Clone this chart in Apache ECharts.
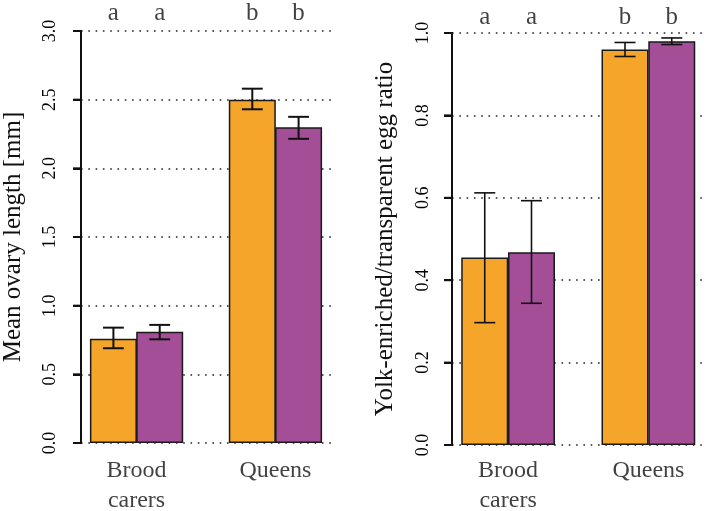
<!DOCTYPE html>
<html>
<head>
<meta charset="utf-8">
<script src="https://cdn.jsdelivr.net/npm/echarts@6/dist/echarts.min.js"></script>
<style>
  html, body { margin: 0; padding: 0; background: #fff; }
  #chart { width: 706px; height: 511px; }
</style>
</head>
<body>
<div id="chart"></div>
<script>
// data
const groups = ['Brood\ncarers', 'Queens'];
const lettersLeft = ['a', 'a', 'b', 'b'];
const lettersRight = ['a', 'a', 'b', 'b'];

// mean ovary length [mm]
const ovaryOrange = [0.76, 2.50];
const ovaryOrangeLo = [0.69, 2.43];
const ovaryOrangeHi = [0.84, 2.58];
const ovaryPurple = [0.81, 2.30];
const ovaryPurpleLo = [0.755, 2.215];
const ovaryPurpleHi = [0.86, 2.375];

// yolk-enriched / transparent egg ratio
const ratioOrange = [0.455, 0.96];
const ratioOrangeLo = [0.297, 0.943];
const ratioOrangeHi = [0.612, 0.977];
const ratioPurple = [0.468, 0.98];
const ratioPurpleLo = [0.344, 0.972];
const ratioPurpleHi = [0.593, 0.988];

const ORANGE = '#F5A52A';
const PURPLE = '#A34E96';
const FONT = 'Liberation Serif';
const X_MIN = 0.8, X_MAX = 6.2;

// barplot layout: width 1 per bar, space 1 before each group
const barX = (g, i) => 1 + g * 3 + i + 0.5;
const groupX = groups.map((_, g) => 1 + g * 3 + 1);
const allBarX = [];
groups.forEach((_, g) => { allBarX.push(barX(g, 0), barX(g, 1)); });

const chart = echarts.init(document.getElementById('chart'));

function makeXAxis(gridIndex) {
  return {
    gridIndex, type: 'value', min: X_MIN, max: X_MAX,
    axisLine: { show: false },
    axisTick: { show: false },
    axisLabel: { show: false },
    splitLine: { show: false }
  };
}

function makeYAxis(gridIndex, max, interval, name, nameGap, margin) {
  return {
    gridIndex, type: 'value', min: 0, max: max, interval: interval,
    name: name, nameLocation: 'middle', nameGap: nameGap, nameRotate: 90,
    nameTextStyle: { fontFamily: FONT, fontSize: 25, color: '#111' },
    axisLine: { show: true, onZero: false, lineStyle: { color: '#111', width: 2 } },
    axisTick: { show: true, length: 8, lineStyle: { color: '#111', width: 2 } },
    axisLabel: {
      rotate: 90, margin: margin, fontFamily: FONT, fontSize: 18, color: '#000',
      formatter: v => v.toFixed(1)
    },
    splitLine: { show: true, lineStyle: { color: '#222', width: 1.6, type: [1.6, 5.7] } }
  };
}

// y axis line and outward ticks, drawn through the axis scale
function axisDecor(idx, max, interval) {
  const ticks = [];
  for (let k = 0; k * interval <= max + 1e-9; k++) ticks.push(+(k * interval).toFixed(6));
  return {
    type: 'custom', xAxisIndex: idx, yAxisIndex: idx, clip: false, silent: true, z: 6,
    renderItem: (params, api) => {
      const p = api.coord([X_MIN, api.value(1)]);
      const st = { stroke: '#111', lineWidth: 2 };
      const children = [
        { type: 'line', shape: { x1: p[0] - 8, y1: p[1], x2: p[0], y2: p[1] }, style: st }
      ];
      if (params.dataIndex === 0) {
        const top = api.coord([X_MIN, max]);
        children.push({ type: 'line', shape: { x1: p[0], y1: p[1] + 1, x2: top[0], y2: top[1] - 1 }, style: st });
      }
      return { type: 'group', children };
    },
    data: ticks.map(v => [X_MIN, v])
  };
}

function bars(idx, vals, color) {
  return {
    type: 'bar', xAxisIndex: idx, yAxisIndex: idx, z: 2,
    barWidth: 47, barGap: '-100%',
    itemStyle: { color: color, borderColor: '#1a1a1a', borderWidth: 1.5 },
    data: vals
  };
}

function errBars(idx, lo, hi, lw) {
  return {
    type: 'custom', xAxisIndex: idx, yAxisIndex: idx, z: 5,
    renderItem: (params, api) => {
      const x = api.value(0);
      const a = api.coord([x, api.value(1)]);
      const b = api.coord([x, api.value(2)]);
      const hw = api.size([0.45, 0])[0] / 2;
      const st = { stroke: '#111', lineWidth: lw };
      return {
        type: 'group',
        children: [
          { type: 'line', shape: { x1: a[0], y1: a[1], x2: b[0], y2: b[1] }, style: st },
          { type: 'line', shape: { x1: a[0] - hw, y1: a[1], x2: a[0] + hw, y2: a[1] }, style: st },
          { type: 'line', shape: { x1: b[0] - hw, y1: b[1], x2: b[0] + hw, y2: b[1] }, style: st }
        ]
      };
    },
    data: lo.map((l, k) => [allBarX[k], l, hi[k]])
  };
}

// text anchored on the axes: letters above the top of the y range, group names below 0
function textMarks(idx, points, names, position, distance, extra) {
  return {
    type: 'scatter', xAxisIndex: idx, yAxisIndex: idx, clip: false, silent: true, z: 6,
    symbolSize: 1, itemStyle: { color: 'rgba(0,0,0,0)' },
    label: Object.assign({
      show: true, position: position, distance: distance,
      fontFamily: FONT, fontSize: 25, color: '#111',
      formatter: p => names[p.dataIndex]
    }, extra || {}),
    data: points
  };
}

// interleave orange/purple per group for the error bars
const inter = (o, p) => { const r = []; o.forEach((v, g) => r.push(v, p[g])); return r; };

const maxLeft = 3, maxRight = 1;
const stepLeft = 0.5, stepRight = 0.2;

chart.setOption({
  animation: false,
  grid: [
    { left: 81, right: 375, top: 31, bottom: 68 },
    { left: 452, right: 1.5, top: 33, bottom: 66 }
  ],
  xAxis: [makeXAxis(0), makeXAxis(1)],
  yAxis: [
    makeYAxis(0, maxLeft, stepLeft, 'Mean ovary length [mm]', 55, 22),
    makeYAxis(1, maxRight, stepRight, 'Yolk-enriched/transparent egg ratio', 54, 20)
  ],
  series: [
    bars(0, groups.map((_, g) => [barX(g, 0), ovaryOrange[g]]), ORANGE),
    bars(0, groups.map((_, g) => [barX(g, 1), ovaryPurple[g]]), PURPLE),
    errBars(0, inter(ovaryOrangeLo, ovaryPurpleLo), inter(ovaryOrangeHi, ovaryPurpleHi), 2),
    axisDecor(0, maxLeft, stepLeft),
    textMarks(0, allBarX.map(x => [x, maxLeft]), lettersLeft, 'top', 5),
    textMarks(0, groupX.map(x => [x, 0]), groups, 'bottom', 12, { fontSize: 24, lineHeight: 30 }),
    bars(1, groups.map((_, g) => [barX(g, 0), ratioOrange[g]]), ORANGE),
    bars(1, groups.map((_, g) => [barX(g, 1), ratioPurple[g]]), PURPLE),
    errBars(1, inter(ratioOrangeLo, ratioPurpleLo), inter(ratioOrangeHi, ratioPurpleHi), 1.6),
    axisDecor(1, maxRight, stepRight),
    textMarks(1, allBarX.map(x => [x, maxRight]), lettersRight, 'top', 3),
    textMarks(1, groupX.map(x => [x, 0]), groups, 'bottom', 10, { fontSize: 24, lineHeight: 30 })
  ]
});
</script>
</body>
</html>
